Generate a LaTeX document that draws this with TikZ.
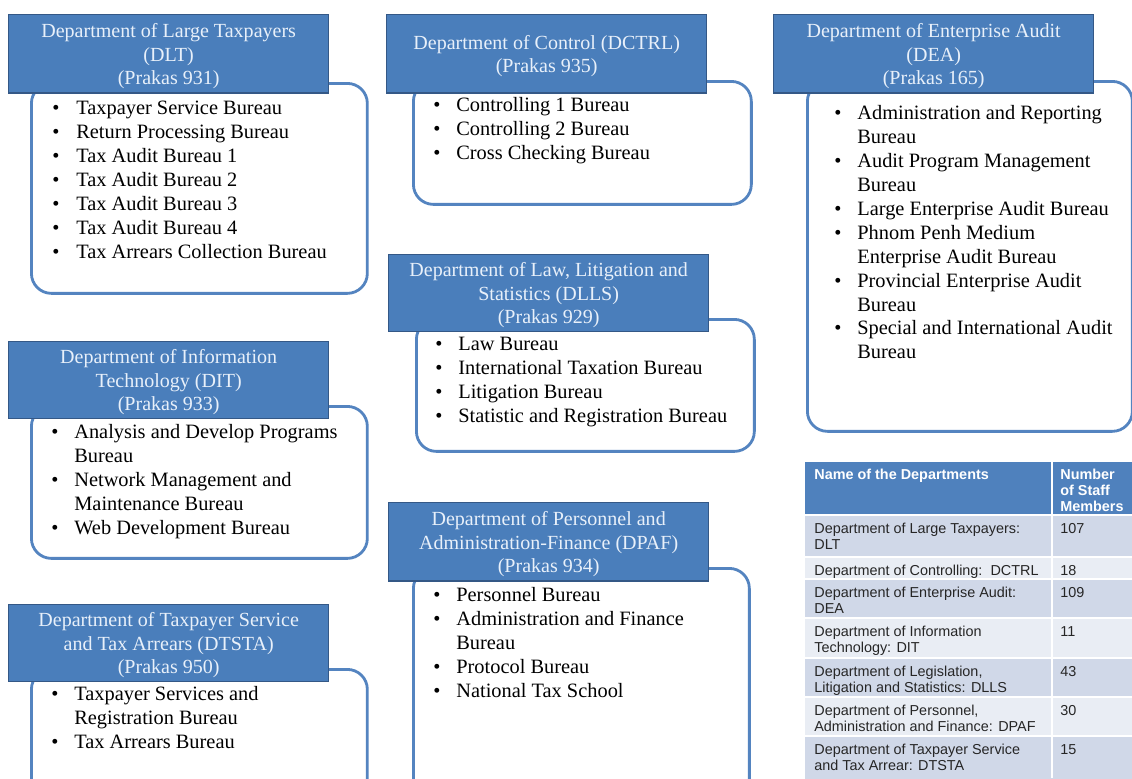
\documentclass[tikz,border=0pt]{standalone}
\usepackage{fontspec}
\setmainfont{Liberation Serif}
\newfontfamily\tabfont{Liberation Sans}
\definecolor{hdblue}{RGB}{74,126,187}
\definecolor{hdedge}{RGB}{52,88,134}
\definecolor{hdtext}{RGB}{232,240,250}
\definecolor{bdblue}{RGB}{84,132,192}
\definecolor{tbhead}{RGB}{79,129,189}
\definecolor{rowd}{RGB}{208,216,232}
\definecolor{rowl}{RGB}{233,237,244}
\begin{document}
\begin{tikzpicture}[
            x=0.02cm, y=-0.02cm,
            hd/.style={
                rectangle,
                draw=hdedge,
                fill=hdblue,
                thick,
                text=hdtext,
                anchor=north west,
                minimum width=6.4cm,
                minimum height=1.57cm,
                inner sep=0pt,
                text depth=-0.06cm,
                align=center,
                font=\fontsize{11.4}{13.4}\selectfont
            },
            bd/.style={
                rectangle,
                draw=bdblue,
                fill=white,
                line width=1.6pt,
                rounded corners=0.4cm,
                anchor=north west
            },
            li/.style={
                anchor=north west,
                inner sep=0pt,
                align=left,
                font=\fontsize{11.6}{13.65}\selectfont
            },
            th/.style={
                anchor=north west,
                inner sep=0pt,
                align=left,
                text=white,
                font=\tabfont\bfseries\fontsize{8.2}{9.1}\selectfont
            },
            td/.style={
                anchor=north west,
                inner sep=0pt,
                align=left,
                text=black!85,
                font=\tabfont\fontsize{8.2}{9.1}\selectfont
            }
        ]
        \clip (0,0) rectangle (1132,778);

        % bodies
        \node[bd, minimum width=6.72cm, minimum height=4.2cm] (dltbody) at (30,82) {};
        \node[bd, minimum width=6.76cm, minimum height=2.46cm] (dctrlbody) at (412,80) {};
        \node[bd, minimum width=6.5cm, minimum height=7cm] (deabody) at (806,80) {};
        \node[bd, minimum width=6.76cm, minimum height=2.64cm] (dllsbody) at (415,318) {};
        \node[bd, minimum width=6.72cm, minimum height=3.04cm] (ditbody) at (30,405) {};
        \node[bd, minimum width=6.72cm, minimum height=2.8cm] (dtstabody) at (30,668) {};
        \node[bd, minimum width=6.72cm, minimum height=4.8cm] (dpafbody) at (412,567) {};

        % headers
        \node[hd] (dlt) at (8,14) {Department of Large Taxpayers\\(DLT)\\(Prakas 931)};
        \node[hd] (dctrl) at (386,14) {Department of Control (DCTRL)\\(Prakas 935)};
        \node[hd] (dea) at (773,14) {Department of Enterprise Audit\\(DEA)\\(Prakas 165)};
        \node[hd, minimum height=1.54cm] (dlls) at (388,254) {Department of Law, Litigation and\\Statistics (DLLS)\\(Prakas 929)};
        \node[hd, minimum height=1.54cm] (dit) at (8,341) {Department of Information\\Technology (DIT)\\(Prakas 933)};
        \node[hd, minimum height=1.54cm] (dtsta) at (8,604) {Department of Taxpayer Service\\and Tax Arrears (DTSTA)\\(Prakas 950)};
        \node[hd] (dpaf) at (388,502) {Department of Personnel and\\Administration-Finance (DPAF)\\(Prakas 934)};

        % bureaus
        \node[li] (dltlist) at (52,97) {\begin{tabular}{@{}p{0.48cm}@{}l@{}}
            \textbullet & Taxpayer Service Bureau\\
            \textbullet & Return Processing Bureau\\
            \textbullet & Tax Audit Bureau 1\\
            \textbullet & Tax Audit Bureau 2\\
            \textbullet & Tax Audit Bureau 3\\
            \textbullet & Tax Audit Bureau 4\\
            \textbullet & Tax Arrears Collection Bureau
        \end{tabular}};
        \node[li] (dctrllist) at (433,94) {\begin{tabular}{@{}p{0.46cm}@{}l@{}}
            \textbullet & Controlling 1 Bureau\\
            \textbullet & Controlling 2 Bureau\\
            \textbullet & Cross Checking Bureau
        \end{tabular}};
        \node[li] (dealist) at (834,102) {\begin{tabular}{@{}p{0.46cm}@{}l@{}}
            \textbullet & Administration and Reporting\\
                        & Bureau\\
            \textbullet & Audit Program Management\\
                        & Bureau\\
            \textbullet & Large Enterprise Audit Bureau\\
            \textbullet & Phnom Penh Medium\\
                        & Enterprise Audit Bureau\\
            \textbullet & Provincial Enterprise Audit\\
                        & Bureau\\
            \textbullet & Special and International Audit\\
                        & Bureau
        \end{tabular}};
        \node[li] (dllslist) at (435,333) {\begin{tabular}{@{}p{0.46cm}@{}l@{}}
            \textbullet & Law Bureau\\
            \textbullet & International Taxation Bureau\\
            \textbullet & Litigation Bureau\\
            \textbullet & Statistic and Registration Bureau
        \end{tabular}};
        \node[li] (ditlist) at (51,421) {\begin{tabular}{@{}p{0.46cm}@{}l@{}}
            \textbullet & Analysis and Develop Programs\\
                        & Bureau\\
            \textbullet & Network Management and\\
                        & Maintenance Bureau\\
            \textbullet & Web Development Bureau
        \end{tabular}};
        \node[li] (dtstalist) at (51,683) {\begin{tabular}{@{}p{0.46cm}@{}l@{}}
            \textbullet & Taxpayer Services and\\
                        & Registration Bureau\\
            \textbullet & Tax Arrears Bureau
        \end{tabular}};
        \node[li] (dpaflist) at (433,584) {\begin{tabular}{@{}p{0.46cm}@{}l@{}}
            \textbullet & Personnel Bureau\\
            \textbullet & Administration and Finance\\
                        & Bureau\\
            \textbullet & Protocol Bureau\\
            \textbullet & National Tax School
        \end{tabular}};

        % staff table
        \fill[tbhead] (805,462) rectangle (1132,515);
        \node[th] (thname) at (814,469) {Name of the Departments};
        \node[th] (thnum) at (1060,469) {Number\\of Staff\\Members};
        \foreach \t/\b/\c/\nm/\n [count=\i] in {
                515/557/rowd/{Department of Large Taxpayers:\\DLT}/107,
                557/579/rowl/{Department of Controlling:\ \ DCTRL}/18,
                579/618/rowd/{Department of Enterprise Audit:\\DEA}/109,
                618/658/rowl/{Department of Information\\Technology: DIT}/11,
                658/697/rowd/{Department of Legislation,\\Litigation and Statistics: DLLS}/43,
                697/736/rowl/{Department of Personnel,\\Administration and Finance: DPAF}/30,
                736/790/rowd/{Department of Taxpayer Service\\and Tax Arrear: DTSTA}/15}
        {
            \fill[\c] (805,\t) rectangle (1132,\b);
            \draw[white, line width=1.2pt] (805,\t) -- (1132,\t);
            \node[td] (dep\i) at (814,\t+8) {\nm};
            \node[td] (num\i) at (1060,\t+8) {\n};
        }
        \draw[white, line width=1.2pt] (1052,462) -- (1052,778);
    \end{tikzpicture}
\end{document}
